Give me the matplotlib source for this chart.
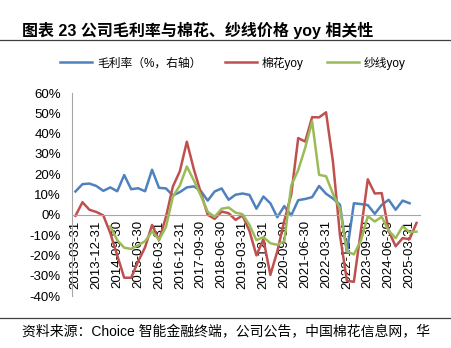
import matplotlib
matplotlib.use("Agg")
import matplotlib.pyplot as plt
from matplotlib.lines import Line2D
import numpy as np
import pandas as pd

plt.rcParams['font.family'] = ['Liberation Sans', 'Noto Sans CJK SC']

# quarterly dates, 2013-03-31 .. 2025-06-30
dates = pd.date_range("2013-03-31", "2025-06-30", freq="QE").strftime("%Y-%m-%d").tolist()

# gross margin (%), through 2025-03-31
gross_margin = [11.5, 15.1, 15.4, 14.2,
                11.8, 13.5, 11.6, 19.6,
                12.6, 13.1, 11.6, 22.2,
                13.3, 13.0, 9.5, 11.2,
                13.5, 14.0, 11.8, 7.0,
                11.5, 13.0, 7.4, 9.9,
                10.5, 9.8, 3.0, 9.0,
                5.7, -1.2, 4.3, -0.3,
                7.2, 7.8, 8.7, 14.2,
                10.4, 8.0, 5.0, -18.5,
                5.7, 5.3, 4.8, 0.5,
                4.9, 7.4, 2.5, 7.0,
                5.7]

# cotton price yoy (%)
cotton_yoy = [-0.5, 6.2, 2.5, 1.4,
              -0.3, -9.0, -20.0, -31.0,
              -31.0, -23.0, -16.0, -5.0,
              -12.5, -1.0, 14.0, 21.5,
              36.0, 22.5, 11.0, 0.0,
              -2.0, 1.6, 0.8, -2.5,
              -0.3, -8.0, -20.0, -12.0,
              -29.6, -18.0, -3.0, 10.0,
              37.8, 36.1, 48.1, 48.0,
              50.5, 26.0, -10.0, -32.5,
              -33.0, -8.0, 17.5, 10.5,
              10.7, -8.0, -15.5, -11.5,
              -12.0, -4.0]

# yarn price yoy (%), starts 2014-06-30
yarn_yoy = [np.nan, np.nan, np.nan, np.nan,
            np.nan, -5.7, -12.5, -16.2,
            -16.8, -15.0, -13.0, -8.2,
            -12.3, -6.0, 9.0, 14.5,
            23.8, 17.0, 9.5, 1.5,
            -1.0, 3.0, 3.6, 1.1,
            0.3, -5.0, -12.5, -11.0,
            -14.0, -14.8, -13.0, 14.5,
            22.0, 33.0, 46.0, 19.7,
            19.0, 10.3, 3.0, -18.0,
            -19.5, -12.8, -0.7, -3.3,
            -1.0, -7.8, -11.5, -5.7,
            -8.5, -8.3]

fig = plt.figure(figsize=(4.52, 3.48), dpi=100)
ax = fig.add_axes([0.1593, 0.1494, 0.7699, 0.5833])

# axis crosses at 0 like the Excel original (set before tick labels, it resets ticks)
for s in ['top', 'right']:
    ax.spines[s].set_visible(False)
ax.spines['bottom'].set_position(('data', 0))
ax.spines['bottom'].set_color('#A6A6A6')
ax.spines['left'].set_color('#A6A6A6')

x = np.arange(len(dates))
ax.plot(x[:len(gross_margin)], gross_margin, color='#4F81BD', lw=1.8, label='毛利率（%，右轴）')
ax.plot(x, cotton_yoy, color='#C0504D', lw=1.8, label='棉花yoy')
ax.plot(x, yarn_yoy, color='#9BBB59', lw=1.8, label='纱线yoy')

ax.set_xlim(-0.5, len(dates) - 0.5)
ax.set_ylim(-40, 60)
ax.set_yticks(np.arange(-40, 61, 10))
ax.set_yticklabels([f"{v}%" for v in range(-40, 61, 10)], fontsize=9.5)
ax.set_xticks(x[::3])
ax.set_xticklabels(dates[::3], rotation=90, fontsize=9.5)
ax.tick_params(axis='both', length=0)
ax.tick_params(axis='x', pad=4)
ax.tick_params(axis='y', pad=8)

fig.legend(loc='center', bbox_to_anchor=(0.515, 1 - 63 / 348), ncol=3, frameon=False,
           fontsize=8.5, handlelength=2.7, handletextpad=0.4, columnspacing=2.0)

fig.text(0.048, 1 - 30 / 348, "图表 23 公司毛利率与棉花、纱线价格 yoy 相关性",
         fontsize=11.5, fontweight='bold', va='center', ha='left')
fig.add_artist(Line2D([0, 1], [1 - 40 / 348, 1 - 40 / 348], color='#404040', lw=0.9))
fig.add_artist(Line2D([0, 1], [1 - 318 / 348, 1 - 318 / 348], color='#404040', lw=0.9))
fig.text(0.048, 1 - 332 / 348, "资料来源：Choice 智能金融终端，公司公告，中国棉花信息网，华",
         fontsize=10, va='center', ha='left')

fig.savefig("out.png", dpi=100)
